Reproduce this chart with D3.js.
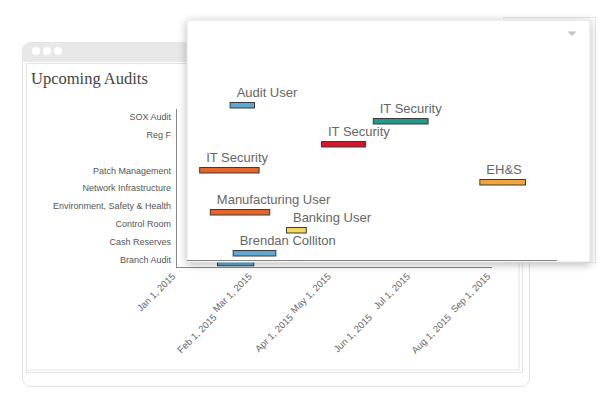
<!DOCTYPE html>
<html><head><meta charset="utf-8">
<script src="https://cdn.jsdelivr.net/npm/d3@7"></script>
<style>body{margin:0;background:#fff;} svg{display:block}</style>
</head><body><svg id="c" width="600" height="416"></svg>
<script>
// ---- data ----
const title = "Upcoming Audits";
const rowLabels = ["SOX Audit","Reg F"," ","Patch Management","Network Infrastructure","Environment, Safety & Health","Control Room","Cash Reserves","Branch Audit"];
const tickDates = ["2015-01-01","2015-02-01","2015-03-01","2015-04-01","2015-05-01","2015-06-01","2015-07-01","2015-08-01","2015-09-01"];
const tickLabels = ["Jan 1, 2015","Feb 1, 2015","Mar 1, 2015","Apr 1, 2015","May 1, 2015","Jun 1, 2015","Jul 1, 2015","Aug 1, 2015","Sep 1, 2015"];
const bgRows = ["SOX Audit","Reg F","Patch Management","Network Infrastructure","Environment, Safety & Health","Control Room","Cash Reserves","Branch Audit"];
const bgStarts = ["2015-02-01","2015-05-03","2015-01-20","2015-03-30","2015-07-12","2015-01-25","2015-03-07","2015-02-02"];
const bgEnds   = ["2015-02-14","2015-06-08","2015-02-17","2015-04-28","2015-08-11","2015-02-24","2015-03-20","2015-03-02"];
const bgColors = ["#5fa8d3","#23998a","#e8652a","#d3162b","#f2a53a","#e8652a","#f3d95b","#5fa8d3"];

const popLabels = ["Audit User","IT Security","IT Security","IT Security","EH&S","Manufacturing User","Banking User","Brendan Colliton"];
const popStarts = ["2015-01-29","2015-05-03","2015-03-30","2015-01-09","2015-07-12","2015-01-16","2015-03-07","2015-01-31"];
const popEnds   = ["2015-02-14","2015-06-08","2015-04-28","2015-02-17","2015-08-11","2015-02-24","2015-03-20","2015-02-28"];
const popLanes  = [15.7,14.1,11.8,9.2,8.0,5.0,3.2,0.9];
const popColors = ["#5fa8d3","#23998a","#d3162b","#e8652a","#f2a53a","#e8652a","#f3d95b","#5fa8d3"];

const parse = d3.timeParse("%Y-%m-%d");
const svg = d3.select("#c");
const defs = svg.append("defs");
const f = defs.append("filter").attr("id","sh").attr("x","-10%").attr("y","-10%").attr("width","120%").attr("height","125%");
f.append("feDropShadow").attr("dx",0).attr("dy",2).attr("stdDeviation",4).attr("flood-color","#000").attr("flood-opacity",0.28);

// ---- background window ----
svg.append("rect").attr("x",22.5).attr("y",42.5).attr("width",507).attr("height",344).attr("rx",8)
  .attr("fill","#fff").attr("stroke","#e2e2e2");
svg.append("path").attr("d","M22.5,62 V50.5 a8,8 0 0 1 8,-8 H521.5 a8,8 0 0 1 8,8 V62 Z").attr("fill","#e8e8e8");
[36,47,58].forEach(cx=>svg.append("circle").attr("cx",cx).attr("cy",51).attr("r",4).attr("fill","#fff"));
svg.append("rect").attr("x",26.5).attr("y",63.5).attr("width",496).attr("height",309).attr("fill","none").attr("stroke","#e4e4e4");
svg.append("rect").attr("x",26.5).attr("y",63.5).attr("width",492.5).attr("height",306.5).attr("fill","none").attr("stroke","#e4e4e4");

svg.append("text").attr("x",31).attr("y",84).text(title)
  .attr("font-family","'Liberation Serif','Times New Roman',serif").attr("font-size",16.5).attr("fill","#444");

// background chart
const xb = d3.scaleTime().domain([parse(tickDates[0]), parse(tickDates[tickDates.length-1])]).range([176,491]);
const yb = d3.scaleBand().domain(rowLabels).range([108,268.5]);
const gb = svg.append("g");
gb.selectAll("text.yl").data(rowLabels).join("text").attr("class","yl")
  .attr("x",171).attr("y",d=>yb(d)+yb.bandwidth()/2).attr("dy","0.35em").attr("text-anchor","end")
  .attr("font-family","'Liberation Sans',Arial,sans-serif").attr("font-size",9).attr("fill","#555").text(d=>d);
gb.selectAll("rect.bb").data(bgRows).join("rect").attr("class","bb")
  .attr("x",(d,i)=>xb(parse(bgStarts[i]))).attr("y",d=>yb(d)+yb.bandwidth()*0.45)
  .attr("width",(d,i)=>xb(parse(bgEnds[i]))-xb(parse(bgStarts[i]))).attr("height",yb.bandwidth()*0.4)
  .attr("fill",(d,i)=>bgColors[i]).attr("stroke","#2f3b44").attr("stroke-width",1);
gb.append("line").attr("x1",176.5).attr("x2",176.5).attr("y1",109).attr("y2",267).attr("stroke","#888");
gb.append("line").attr("x1",176).attr("x2",492).attr("y1",267.5).attr("y2",267.5).attr("stroke","#888");
gb.selectAll("text.xl").data(tickDates).join("text").attr("class","xl")
  .attr("transform",(d,i)=>`translate(${xb(parse(d)) + (i%2?1:0)},${i%2?318:277}) rotate(-45)`)
  .attr("text-anchor","end").attr("font-family","'Liberation Sans',Arial,sans-serif").attr("font-size",9.5)
  .attr("fill","#666").text((d,i)=>tickLabels[i]);

// third card layer
svg.append("rect").attr("x",503.5).attr("y",17.5).attr("width",92).attr("height",245).attr("fill","#fff").attr("stroke","#e6e6e6");

// ---- popup ----
svg.append("rect").attr("x",187).attr("y",20).attr("width",403).attr("height",242).attr("fill","#fff")
  .attr("stroke","#e0e0e0").attr("filter","url(#sh)");
svg.append("path").attr("d","M567.5,31.5 L576.5,31.5 L572,36 Z").attr("fill","#c4c4c4");

const xp = d3.scaleTime().domain([parse(tickDates[0]), parse(tickDates[tickDates.length-1])]).range([187,557]);
const yp = d3.scaleLinear().domain([0,20]).range([262,62]);
const gp = svg.append("g");
gp.append("line").attr("x1",187).attr("x2",557).attr("y1",260.5).attr("y2",260.5).attr("stroke","#888");
gp.selectAll("rect.pb").data(popLabels).join("rect").attr("class","pb")
  .attr("x",(d,i)=>xp(parse(popStarts[i]))+0.5).attr("y",(d,i)=>Math.round(yp(popLanes[i])-3)+0.5)
  .attr("width",(d,i)=>xp(parse(popEnds[i]))-xp(parse(popStarts[i]))).attr("height",5.5)
  .attr("fill",(d,i)=>popColors[i]).attr("stroke","#3a3a3a").attr("stroke-width",1);
gp.selectAll("text.pl").data(popLabels).join("text").attr("class","pl")
  .attr("x",(d,i)=>xp(parse(popStarts[i]))+7).attr("y",(d,i)=>yp(popLanes[i])-8)
  .attr("font-family","'Liberation Sans',Arial,sans-serif").attr("font-size",13).attr("fill","#666").text(d=>d);
</script></body></html>
